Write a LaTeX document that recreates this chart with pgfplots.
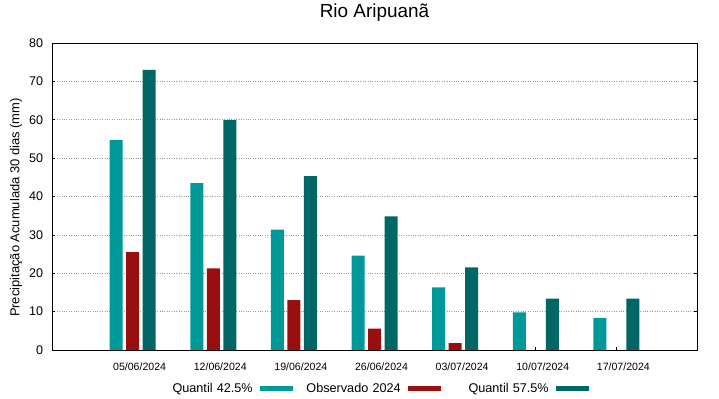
\documentclass[border=0pt]{standalone}
\usepackage{fontspec}
\setmainfont{Liberation Sans}
\usepackage{pgfplots}
\pgfplotsset{compat=1.18}
\definecolor{qlow}{HTML}{009999}
\definecolor{obs}{HTML}{990E0E}
\definecolor{qhigh}{HTML}{006666}
\begin{document}
\begin{tikzpicture}
\begin{axis}[
  at={(0,0)}, anchor=south west,
  scale only axis, width=645bp, height=307bp,
  xmin=-1, xmax=7, ymin=0, ymax=80,
  xtick={0,1,2,3,4,5,6},
  xticklabels={05/06/2024,12/06/2024,19/06/2024,26/06/2024,03/07/2024,10/07/2024,17/07/2024},
  ytick={0,10,20,30,40,50,60,70,80},
  /pgf/number format/assume math mode=true,
  xticklabel style={font=\fontsize{10.6}{12}\selectfont, anchor=base, inner sep=0pt, yshift=-20.6bp, xshift=7bp},
  yticklabel style={font=\fontsize{12.6}{14}\selectfont, anchor=east, inner sep=0pt, xshift=-8.7bp},
  tick align=inside, major tick length=3.5bp,
  xtick pos=bottom, ytick pos=both,
  tick style={black, line width=0.6bp},
  axis line style={black, line width=0.8bp},
  ymajorgrids, grid style={gray!80, dotted, line width=0.7bp},
  title={Rio Aripuanã},
  title style={font=\fontsize{19}{22}\selectfont, at={(axis description cs:0.5,1)}, anchor=base, yshift=19.7bp},
  ylabel={Precipitação Acumulada 30 dias (mm)},
  ylabel style={font=\fontsize{13}{15}\selectfont, at={(axis description cs:-0.0558,0.464)}, anchor=center},
  legend columns=3,
  legend plot pos=right,
  legend image code/.code={\fill[#1] (0bp,-2.5bp) rectangle (33.5bp,2.5bp);},
  legend style={at={(axis description cs:0.4988,-0.126)}, anchor=center, draw=none, fill=none,
    inner sep=0pt, font=\fontsize{12.7}{14}\selectfont,
    nodes={text width=94.5bp, align=right, inner sep=0pt},
    /tikz/every odd column/.style={column sep=7bp},
    /tikz/every even column/.style={column sep=13bp}},
]
\addplot[ybar, bar width=13bp, bar shift=-16.5bp, fill=qlow, draw=none, forget plot]
  coordinates {(0,54.7) (1,43.5) (2,31.4) (3,24.6) (4,16.3) (5,9.8) (6,8.4)};
\addplot[ybar, bar width=13bp, bar shift=0bp, fill=obs, draw=none, forget plot]
  coordinates {(0,25.5) (1,21.3) (2,13.0) (3,5.6) (4,1.8)};
\addplot[ybar, bar width=13bp, bar shift=16.5bp, fill=qhigh, draw=none, forget plot]
  coordinates {(0,73.0) (1,59.9) (2,45.3) (3,34.8) (4,21.5) (5,13.4) (6,13.4)};
\addlegendimage{fill=qlow, draw=none}
\addlegendentry{Quantil 42.5\%}
\addlegendimage{fill=obs, draw=none}
\addlegendentry{Observado 2024}
\addlegendimage{fill=qhigh, draw=none}
\addlegendentry{Quantil 57.5\%}
\end{axis}
\pgfresetboundingbox
\path (-52bp,-49bp) rectangle (667bp,350bp);
\end{tikzpicture}
\end{document}
